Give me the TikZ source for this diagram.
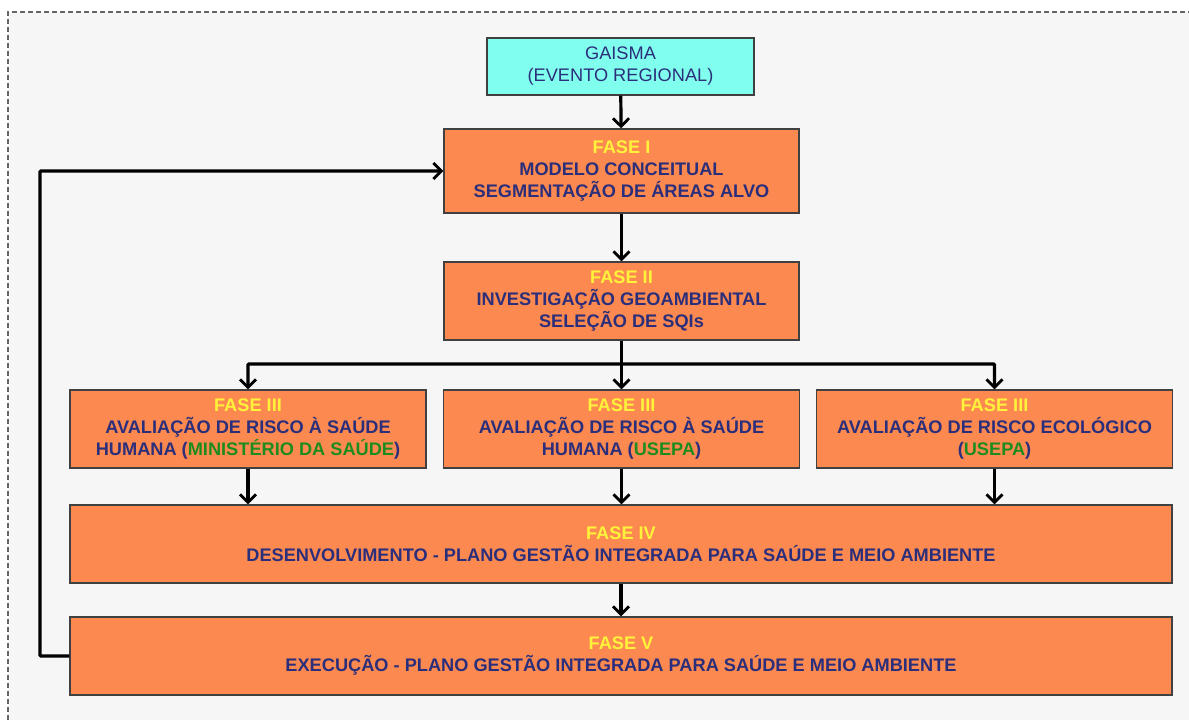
\documentclass[tikz,border=0pt]{standalone}
\usepackage{fontspec}
\setmainfont{Liberation Sans}
\usetikzlibrary{arrows.meta}
\definecolor{fase}{HTML}{FC8A50}
\definecolor{gaisma}{HTML}{80FFEE}
\definecolor{navy}{HTML}{2B2E7A}
\definecolor{amarelo}{HTML}{FFF23A}
\definecolor{verde}{HTML}{1E8B1E}
\definecolor{fundo}{HTML}{F6F6F6}
\begin{document}
\begin{tikzpicture}[x=1pt,y=1pt,
  box/.style={draw=black!75,line width=1.4pt,fill=fase,align=center,inner sep=0pt,
    font=\fontsize{18.2}{22}\selectfont\bfseries,text=navy},
  seta/.style={line width=3.2pt,-{Straight Barb[length=8pt,width=16pt,line width=2.8pt]}}]
\useasboundingbox (0,0) rectangle (1189,720);
\fill[fundo] (8,0) rectangle (1189,708);
\draw[black!60,line width=1.5pt,dash pattern=on 5pt off 3pt] (8,0) -- (8,708) -- (1189,708);

\node[box,fill=gaisma,font=\fontsize{18.2}{22}\selectfont,minimum width=267,minimum height=57] (gaisma) at (620.5,653.5)
 {GAISMA\\(EVENTO REGIONAL)};
\node[box,minimum width=355,minimum height=84] (f1) at (621.5,549)
 {\textcolor{amarelo}{FASE I}\\MODELO CONCEITUAL\\SEGMENTAÇÃO DE ÁREAS ALVO};
\node[box,minimum width=355,minimum height=78] (f2) at (621.5,419)
 {\textcolor{amarelo}{FASE II}\\INVESTIGAÇÃO GEOAMBIENTAL\\SELEÇÃO DE SQIs};
%row-3
\node[box,minimum width=356,minimum height=78] (f3a) at (248,291)
 {\textcolor{amarelo}{FASE III}\\AVALIAÇÃO DE RISCO À SAÚDE\\HUMANA (\textcolor{verde}{MINISTÉRIO DA SAÚDE})};
\node[box,minimum width=356,minimum height=78] (f3b) at (621.5,291)
 {\textcolor{amarelo}{FASE III}\\AVALIAÇÃO DE RISCO À SAÚDE\\HUMANA (\textcolor{verde}{USEPA})};
\node[box,minimum width=356,minimum height=78] (f3c) at (994.5,291)
 {\textcolor{amarelo}{FASE III}\\AVALIAÇÃO DE RISCO ECOLÓGICO\\(\textcolor{verde}{USEPA})};
%row-4 and row-5
\node[box,minimum width=1102,minimum height=78] (f4) at (621,176)
 {\textcolor{amarelo}{FASE IV}\\DESENVOLVIMENTO - PLANO GESTÃO INTEGRADA PARA SAÚDE E MEIO AMBIENTE};
\node[box,minimum width=1102,minimum height=78] (f5) at (621,64)
 {\textcolor{amarelo}{FASE V}\\EXECUÇÃO - PLANO GESTÃO INTEGRADA PARA SAÚDE E MEIO AMBIENTE};

\coordinate (ramo) at (621.5,356);
\coordinate (volta) at (40,0);
\draw[seta] (gaisma) -- (f1);
\draw[seta] (f1) -- (f2);
\draw[line width=3.2pt] (f2) -- (ramo);
\draw[seta] (ramo) -- (f3b);
\draw[seta,rounded corners=1pt] (ramo) -| (f3a);
\draw[seta,rounded corners=1pt] (ramo) -| (f3c);
\draw[seta] (f3a) -- (f3a|-f4.north);
\draw[seta] (f3b) -- (f3b|-f4.north);
\draw[seta] (f3c) -- (f3c|-f4.north);
\draw[seta] (f4) -- (f5);
\draw[seta,rounded corners=1pt] (f5.west) -- (volta|-f5.west) -- (volta|-f1.west) -- (f1.west);
\end{tikzpicture}
\end{document}
